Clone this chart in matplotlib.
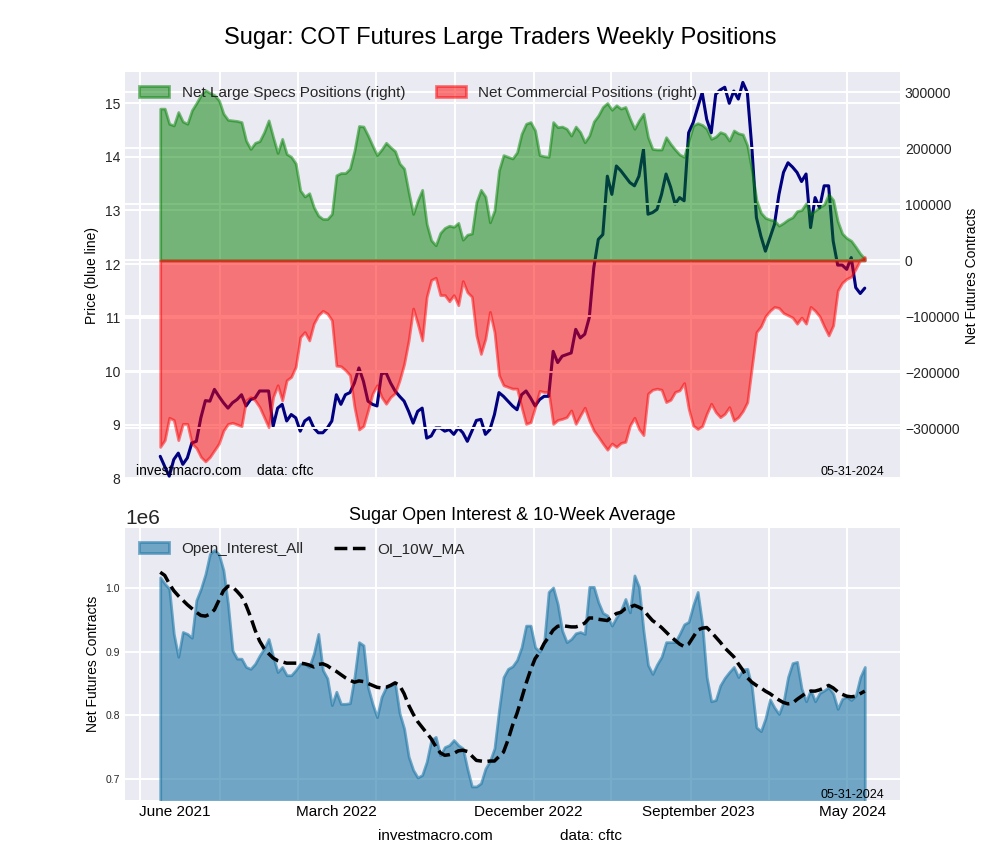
import numpy as np
import pandas as pd
import matplotlib
matplotlib.use("Agg")
import matplotlib.pyplot as plt
import matplotlib.dates as mdates
from matplotlib.ticker import FixedLocator, FixedFormatter, NullFormatter, MultipleLocator

# weekly COT report dates (Tuesdays)
weeks = pd.date_range("2021-06-01", "2024-05-28", freq="7D")

# net positions, thousands of contracts
large_specs_k = [271, 271, 244, 241, 265, 248, 244, 268, 281, 295,
                 304, 299, 295, 286, 262, 251, 250, 249, 247, 214,
                 199, 210, 213, 229, 250, 220, 192, 217, 190, 185,
                 173, 125, 114, 120, 95, 80, 74, 74, 83, 152,
                 156, 156, 164, 196, 240, 239, 223, 205, 188, 198,
                 210, 202, 195, 173, 164, 122, 83, 107, 126, 65,
                 36, 27, 49, 58, 62, 60, 67, 37, 46, 48,
                 104, 126, 114, 68, 89, 161, 188, 185, 182, 193,
                 226, 244, 247, 232, 188, 186, 185, 247, 238, 239,
                 235, 223, 239, 229, 211, 223, 248, 259, 274, 281,
                 269, 277, 271, 274, 253, 235, 250, 262, 220, 199,
                 198, 198, 220, 208, 198, 189, 185, 214, 241, 245,
                 242, 235, 217, 221, 229, 226, 214, 232, 227, 225,
                 205, 161, 108, 85, 76, 73, 71, 62, 67, 73,
                 77, 88, 90, 102, 83, 89, 95, 100, 118, 108,
                 70, 48, 40, 35, 24, 12, 3]

commercial_k = [-333, -321, -281, -285, -321, -292, -292, -327, -335, -351,
                -359, -351, -339, -327, -304, -292, -290, -293, -296, -250,
                -244, -250, -262, -280, -298, -244, -223, -250, -214, -208,
                -190, -137, -128, -143, -113, -98, -90, -95, -107, -188,
                -189, -196, -205, -262, -302, -296, -268, -238, -223, -244,
                -256, -244, -237, -214, -185, -143, -86, -113, -143, -65,
                -35, -31, -62, -62, -73, -62, -80, -37, -57, -65,
                -134, -167, -140, -92, -128, -205, -223, -226, -229, -229,
                -262, -292, -289, -262, -233, -235, -235, -292, -285, -283,
                -280, -268, -292, -277, -263, -286, -304, -315, -327, -338,
                -327, -333, -326, -324, -295, -281, -301, -312, -238, -231,
                -229, -231, -253, -249, -235, -232, -219, -265, -295, -301,
                -296, -274, -256, -271, -280, -274, -262, -286, -280, -269,
                -253, -190, -128, -118, -100, -90, -83, -85, -94, -98,
                -102, -113, -102, -113, -83, -90, -100, -118, -134, -116,
                -54, -40, -33, -29, -15, 1, 6]

price = [8.41, 8.22, 8.04, 8.35, 8.47, 8.26, 8.38, 8.66, 8.69, 9.13,
         9.45, 9.44, 9.66, 9.53, 9.41, 9.31, 9.41, 9.47, 9.56, 9.35,
         9.47, 9.50, 9.63, 9.63, 9.63, 8.97, 9.31, 9.38, 9.07, 9.19,
         9.13, 8.88, 9.07, 9.13, 8.94, 8.85, 8.85, 8.94, 9.07, 9.56,
         9.38, 9.56, 9.60, 9.78, 10.06, 9.81, 9.44, 9.38, 9.35, 9.95,
         9.97, 9.78, 9.63, 9.53, 9.44, 9.25, 9.03, 9.25, 9.31, 8.75,
         8.79, 8.94, 8.94, 8.88, 8.91, 8.82, 8.94, 8.85, 8.69, 8.88,
         9.08, 9.10, 8.82, 8.91, 9.19, 9.60, 9.53, 9.44, 9.35, 9.28,
         9.56, 9.63, 9.50, 9.35, 9.47, 9.53, 9.53, 10.37, 10.16, 10.28,
         10.31, 10.34, 10.78, 10.62, 10.69, 11.00, 11.93, 12.46, 12.55, 13.64,
         13.30, 13.83, 13.74, 13.63, 13.52, 13.46, 13.64, 14.14, 12.93, 12.96,
         13.02, 13.30, 13.68, 13.44, 13.12, 13.24, 13.18, 14.45, 14.64, 14.92,
         15.20, 14.70, 14.45, 15.17, 15.25, 15.30, 15.00, 15.23, 15.08, 15.39,
         15.20, 14.17, 12.87, 12.52, 12.24, 12.49, 12.74, 13.30, 13.71, 13.89,
         13.81, 13.71, 13.54, 13.68, 12.68, 13.24, 13.05, 13.46, 13.46, 12.43,
         11.98, 11.98, 11.90, 12.12, 11.56, 11.45, 11.55]

# open interest and its 10 week average, thousands of contracts
open_interest_k = [1017, 1007, 999, 928, 892, 931, 928, 922, 981, 999,
                   1022, 1054, 1060, 1053, 1028, 975, 902, 889, 889, 876,
                   873, 881, 894, 905, 920, 892, 868, 876, 863, 863,
                   871, 881, 881, 876, 897, 928, 871, 858, 816, 837,
                   818, 818, 819, 860, 915, 910, 844, 818, 797, 829,
                   844, 847, 850, 803, 779, 735, 714, 702, 706, 727,
                   761, 766, 737, 750, 753, 761, 753, 748, 716, 688,
                   688, 693, 716, 728, 748, 808, 860, 873, 877, 887,
                   907, 941, 941, 907, 900, 915, 994, 1001, 975, 933,
                   915, 920, 929, 931, 928, 1002, 1002, 978, 961, 957,
                   941, 954, 965, 983, 962, 1020, 1002, 933, 879, 865,
                   880, 892, 915, 915, 915, 928, 943, 947, 973, 994,
                   944, 860, 822, 824, 847, 859, 868, 876, 860, 872,
                   873, 844, 781, 775, 795, 825, 812, 802, 821, 860,
                   882, 884, 842, 822, 840, 822, 835, 839, 844, 834,
                   810, 826, 829, 824, 831, 860, 876]

oi_10w_ma_k = [1025, 1020, 1007, 996, 988, 981, 974, 968, 962, 957,
               956, 959, 966, 981, 996, 1003, 1002, 995, 987, 973,
               955, 934, 917, 905, 897, 890, 886, 884, 882, 882,
               882, 882, 881, 879, 876, 880, 881, 878, 873, 869,
               864, 859, 855, 852, 854, 853, 850, 847, 844, 843,
               844, 847, 851, 847, 834, 816, 802, 790, 781, 772,
               763, 751, 741, 737, 738, 740, 744, 745, 743, 736,
               729, 728, 727, 728, 728, 735, 742, 761, 784, 803,
               826, 850, 871, 889, 899, 913, 923, 934, 940, 941,
               940, 939, 939, 941, 945, 953, 953, 951, 950, 949,
               955, 960, 962, 968, 970, 973, 970, 966, 957, 949,
               944, 938, 931, 924, 918, 912, 908, 912, 923, 934,
               937, 938, 931, 923, 915, 906, 899, 892, 881, 871,
               859, 852, 847, 843, 838, 834, 829, 824, 820, 818,
               819, 825, 830, 835, 838, 838, 840, 843, 847, 843,
               837, 833, 830, 829, 830, 834, 838]

x_labels = ["June 2021", "March 2022", "December 2022", "September 2023", "May 2024"]
x_label_dates = ["2021-06-24", "2022-03-01", "2022-12-23", "2023-09-13", "2024-05-09"]
report_date = "05-31-2024"

specs = np.array(large_specs_k) * 1000
comm = np.array(commercial_k) * 1000
oi = np.array(open_interest_k) * 1000
oi_ma = np.array(oi_10w_ma_k) * 1000

plt.style.use("seaborn-v0_8-darkgrid")
plt.rcParams["font.family"] = ["Liberation Sans", "DejaVu Sans"]
plt.rcParams["grid.linewidth"] = 1.4

fig = plt.figure(figsize=(10, 8.6), dpi=100)
gs = fig.add_gridspec(2, 1, height_ratios=[3, 2], left=0.125, right=0.9,
                      top=0.916, bottom=0.070, hspace=0.1445)
ax1 = fig.add_subplot(gs[0])
ax3 = fig.add_subplot(gs[1], sharex=ax1)

# top: price (left) and net positions (right)
ax1.plot(weeks, price, color="navy", linewidth=2.2)
ax1.set_ylim(7.98, 15.58)
ax1.set_ylabel("Price (blue line)", fontsize=10, color="black")
ax1.tick_params(axis="y", labelsize=10)
ax1.tick_params(axis="x", which="both", labelbottom=False)

ax2 = ax1.twinx()
ax2.fill_between(weeks, 0, specs, color="green", alpha=0.5, linewidth=2,
                 label="Net Large Specs Positions (right)")
ax2.fill_between(weeks, 0, comm, color="red", alpha=0.5, linewidth=2,
                 label="Net Commercial Positions (right)")
ax2.set_ylim(-391000, 336000)
ax2.set_ylabel("Net Futures Contracts", fontsize=10, color="black")
ax2.tick_params(axis="y", labelsize=10)
ax2.legend(loc="upper left", ncol=2, fontsize=11, frameon=False)
ax2.text(0.014, 0.01, "investmacro.com    data: cftc", transform=ax2.transAxes,
         fontsize=10, color="black")
ax2.text(0.98, 0.01, report_date, transform=ax2.transAxes, fontsize=9, ha="right",
         color="black")

# bottom: open interest
ax3.fill_between(weeks, oi, color="#1f78a8", alpha=0.6, linewidth=2, label="Open_Interest_All")
ax3.plot(weeks, oi_ma, color="black", linestyle="--", linewidth=2.5, label="OI_10W_MA")
ax3.set_ylim(667000, 1094000)
ax3.yaxis.set_major_locator(MultipleLocator(100000))
ax3.set_title("Sugar Open Interest & 10-Week Average", fontsize=13, color="black")
ax3.set_ylabel("Net Futures Contracts", fontsize=10, color="black")
ax3.tick_params(axis="y", labelsize=7.5)
ax3.yaxis.get_offset_text().set_fontsize(15)
ax3.legend(loc="upper left", ncol=2, fontsize=11, frameon=False)
ax3.text(0.98, 0.007, report_date, transform=ax3.transAxes, fontsize=9, ha="right",
         color="black")

ax3.xaxis.set_major_locator(mdates.MonthLocator(bymonth=[1, 5, 9]))
ax3.xaxis.set_major_formatter(NullFormatter())
ax3.xaxis.set_minor_locator(FixedLocator(mdates.datestr2num(x_label_dates)))
ax3.xaxis.set_minor_formatter(FixedFormatter(x_labels))
ax3.tick_params(axis="x", which="minor", labelsize=11, length=0, labelcolor="black")
ax3.grid(False, which="minor")
ax1.grid(False, which="minor")

fig.text(0.5, 0.956, "Sugar: COT Futures Large Traders Weekly Positions",
         ha="center", va="center", fontsize=17, color="black")
fig.text(0.378, 0.028, "investmacro.com", fontsize=11, va="center", color="black")
fig.text(0.56, 0.028, "data: cftc", fontsize=11, va="center", color="black")

fig.savefig("out.png", dpi=100)
